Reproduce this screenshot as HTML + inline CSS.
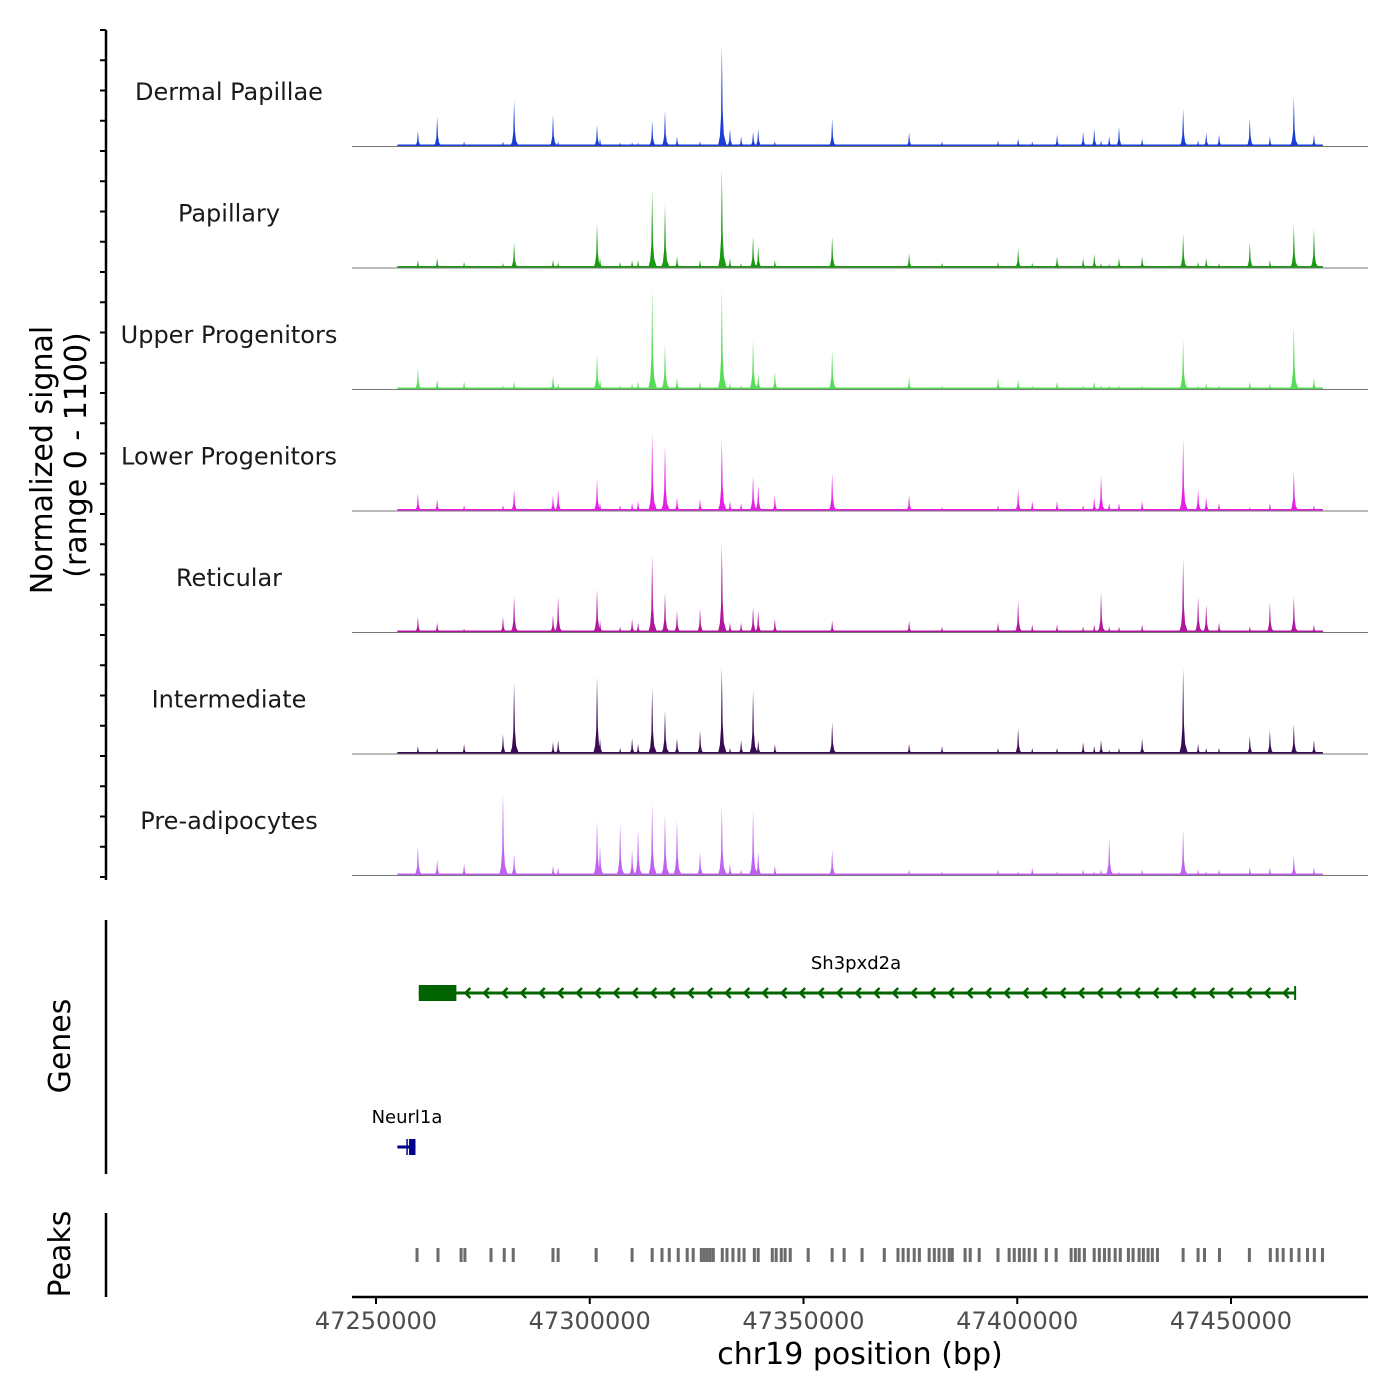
<!DOCTYPE html>
<html><head><meta charset="utf-8">
<style>
html,body{margin:0;padding:0;background:#fff;}
svg{display:block;font-family:"DejaVu Sans","Liberation Sans",sans-serif;}
</style></head>
<body>
<svg id="chart" width="1400" height="1400" viewBox="0 0 1400 1400" xmlns="http://www.w3.org/2000/svg">
<rect width="1400" height="1400" fill="#fff"/>
<g id="tracks"></g>
<g id="left-axis"></g>
<text transform="translate(52,460) rotate(-90)" text-anchor="middle" font-size="30" fill="#000">Normalized signal</text>
<text transform="translate(86,455) rotate(-90)" text-anchor="middle" font-size="30" fill="#000">(range 0 - 1100)</text>
<g id="genes"></g>
<line x1="106" y1="920" x2="106" y2="1174" stroke="#000" stroke-width="2.5"/>
<text transform="translate(70,1046) rotate(-90)" text-anchor="middle" font-size="30" fill="#000">Genes</text>
<g id="peaks"></g>
<line x1="106" y1="1213" x2="106" y2="1297" stroke="#000" stroke-width="2.5"/>
<text transform="translate(70,1254) rotate(-90)" text-anchor="middle" font-size="30" fill="#000">Peaks</text>
<g id="xaxis"></g>
<text x="860" y="1364" text-anchor="middle" font-size="30" fill="#000">chr19 position (bp)</text>
</svg>
<script>
const trackNames = ["Dermal Papillae","Papillary","Upper Progenitors","Lower Progenitors","Reticular","Intermediate","Pre-adipocytes"];
const trackColors = ["#1a3fd6","#1a9a10","#55dd55","#e61ee6","#b0169e","#3b0a55","#c060f0"];
const peakPositions = [47259800,47264300,47270600,47279700,47282300,47291400,47292600,47301700,47302400,47307100,47309900,47311300,47314600,47317600,47320400,47325800,47330900,47332800,47335400,47338200,47339400,47343300,47356700,47374700,47382400,47395500,47400200,47403500,47409300,47415400,47418000,47419600,47421500,47423800,47429200,47438800,47442300,47444200,47447200,47454400,47459100,47464700,47469400];
const dermalPapillae = [144,270,45,45,423,288,45,198,72,36,36,36,234,324,90,45,918,162,90,135,162,45,252,126,45,54,72,45,108,135,162,54,90,180,72,342,54,126,108,252,90,450,108];
const papillary = [72,90,54,45,234,72,54,405,90,54,72,72,702,576,108,72,900,90,45,288,198,72,288,135,45,54,180,45,108,90,126,45,36,90,108,306,54,90,45,234,72,396,360];
const upperProgenitors = [198,90,72,36,72,126,54,324,90,36,54,72,918,414,108,72,918,54,36,450,144,162,360,108,36,108,90,36,72,36,72,36,36,36,36,450,36,54,36,72,54,576,108];
const lowerProgenitors = [162,108,54,54,198,144,198,288,72,54,72,90,702,594,126,108,648,90,72,324,234,144,342,144,36,54,198,90,90,54,126,324,72,72,90,648,198,126,72,36,72,360,54];
const reticular = [144,90,36,144,324,162,324,396,108,54,126,90,702,360,198,216,810,90,90,234,198,126,108,108,54,90,288,72,72,54,72,360,54,54,72,666,324,252,90,54,270,324,72];
const intermediate = [72,54,90,180,648,108,126,702,144,54,144,90,594,396,144,216,792,54,126,576,126,90,288,90,72,54,234,54,54,108,72,126,36,54,144,774,90,54,54,162,216,270,126];
const preAdipocytes = [270,144,108,756,198,90,72,504,270,468,234,414,648,558,504,216,630,108,54,594,216,90,234,54,36,54,36,72,36,54,36,54,342,36,54,414,54,36,54,72,72,180,72];
const xTicks = [47250000,47300000,47350000,47400000,47450000];
const peakRegions = [47259600,47264500,47269900,47270800,47276900,47280000,47282100,47291400,47292600,47301500,47309900,47314600,47316900,47318600,47320700,47322800,47324200,47326100,47326800,47327500,47328200,47328900,47331000,47332100,47333500,47334900,47336100,47338500,47339400,47342700,47343600,47344800,47345700,47346900,47351100,47356700,47359500,47363700,47368900,47372100,47373300,47374500,47375900,47377100,47379400,47380600,47381700,47382900,47384100,47384800,47387800,47389000,47391100,47395500,47398100,47399300,47400500,47401600,47402800,47404200,47406800,47409100,47412600,47413600,47414500,47415700,47418000,47419200,47420400,47421500,47422900,47424100,47426000,47427100,47428500,47429500,47430600,47431600,47432800,47438800,47442300,47443800,47447300,47454300,47459200,47460800,47462200,47464100,47465900,47467900,47469500,47471400];
const geneSh3Start = 47260000, geneSh3End = 47465000, geneSh3Utr = 47268800;
const geneNeurStart = 47255000, geneNeurEnd = 47259000, geneNeurExon = 47257500;

const seriesValues = [dermalPapillae,papillary,upperProgenitors,lowerProgenitors,reticular,intermediate,preAdipocytes];
const NS="http://www.w3.org/2000/svg";
const X0=47250000, PX0=376, K=855/200000;
function xs(bp){return PX0+(bp-X0)*K;}
const trackTop=25, trackH=121.5, maxSig=1100;
function ys(i,v){return trackTop+(i+1)*trackH - v/maxSig*trackH;}
function mk(tag,attrs,parent){const e=document.createElementNS(NS,tag);for(const k in attrs)e.setAttribute(k,attrs[k]);parent.appendChild(e);return e;}

const tracks=document.getElementById('tracks');
seriesValues.forEach((vals,i)=>{
  const g=mk('g',{},tracks);
  
  
  const base=ys(i,0);
  const bg=mk('rect',{x:xs(47255000),y:base-2,width:xs(47471500)-xs(47255000),height:2,fill:trackColors[i]},g);
  
  
  vals.forEach((v,j)=>{
    const x=xs(peakPositions[j]); const top=ys(i,v); const h=base-top;
    const d=`M${x-4},${base} L${x-2},${base-h*0.1} L${x-0.8},${base-h*0.3} L${x},${top} L${x+0.8},${base-h*0.35} L${x+2},${base-h*0.12} L${x+5},${base} Z`;
    const p=mk('path',{d:d,fill:trackColors[i]},g);
    
    
  });
  const bl=mk('line',{x1:352,x2:1368,y1:base,y2:base,stroke:'#777','stroke-width':1},g);
  
  
  const t=mk('text',{x:229,y:trackTop+i*trackH+75,'text-anchor':'middle','font-size':24,fill:'#1a1a1a'},g);
  t.textContent=trackNames[i];
  
  
});

const la=document.getElementById('left-axis');
mk('line',{x1:106,y1:30,x2:106,y2:880,stroke:'#000','stroke-width':2.5},la);
for(let y=30;y<=880;y+=30.25){
  const tk=mk('line',{x1:100,x2:106,y1:y,y2:y,stroke:'#000','stroke-width':2},la);
  
  
}

const gn=document.getElementById('genes');
const gy=993, green='#006400';
const sh=mk('g',{},gn);


mk('line',{x1:xs(geneSh3Start),x2:xs(geneSh3End),y1:gy,y2:gy,stroke:green,'stroke-width':3},sh);
mk('rect',{x:xs(geneSh3Start),y:gy-8,width:xs(geneSh3Utr)-xs(geneSh3Start),height:16,fill:green},sh);
mk('line',{x1:xs(geneSh3End),x2:xs(geneSh3End),y1:gy-7,y2:gy+7,stroke:green,'stroke-width':2},sh);
for(let x=xs(geneSh3Utr)+10;x<xs(geneSh3End)-4;x+=18.6){
  mk('path',{d:`M${x+4},${gy-5} L${x-1},${gy} L${x+4},${gy+5}`,fill:'none',stroke:green,'stroke-width':2.5},sh);
}
const st=mk('text',{x:856,y:969,'text-anchor':'middle','font-size':18,fill:'#000'},sh);
st.textContent='Sh3pxd2a';
const nr=mk('g',{},gn);


const blue='#00008b';
mk('line',{x1:xs(geneNeurStart),x2:xs(geneNeurEnd)+1,y1:1147,y2:1147,stroke:blue,'stroke-width':3},nr);
mk('rect',{x:xs(geneNeurExon)+1,y:1139,width:xs(geneNeurEnd)-xs(geneNeurExon),height:16,fill:blue},nr);
mk('line',{x1:xs(geneNeurExon)-1,x2:xs(geneNeurExon)-1,y1:1139,y2:1155,stroke:blue,'stroke-width':1.5},nr);
const nt=mk('text',{x:407,y:1123,'text-anchor':'middle','font-size':18,fill:'#000'},nr);
nt.textContent='Neurl1a';

const pk=document.getElementById('peaks');
peakRegions.forEach(bp=>{
  const r=mk('rect',{x:xs(bp)-1.5,y:1248,width:3,height:14,fill:'#6b6b6b'},pk);
  
  
});

const xa=document.getElementById('xaxis');
mk('line',{x1:352,x2:1368,y1:1297,y2:1297,stroke:'#000','stroke-width':2.5},xa);
xTicks.forEach(v=>{
  const tk=mk('line',{x1:xs(v),x2:xs(v),y1:1297,y2:1304,stroke:'#000','stroke-width':2},xa);
  
  
  const t=mk('text',{x:xs(v),y:1329,'text-anchor':'middle','font-size':24,fill:'#4d4d4d'},xa);
  t.textContent=String(v);
  
  
});
</script>
</body></html>
